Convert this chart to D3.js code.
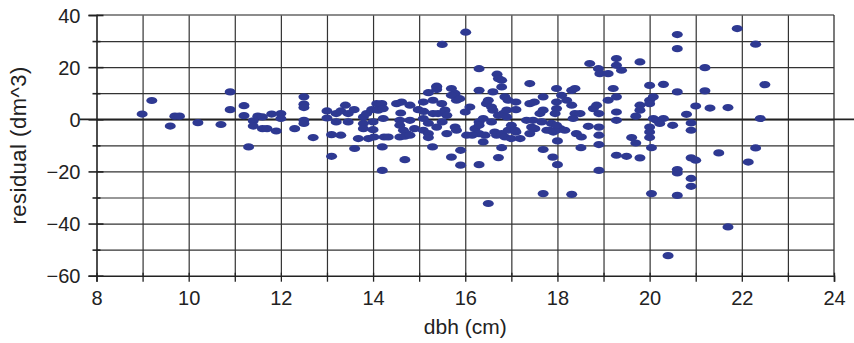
<!DOCTYPE html>
<html><head><meta charset="utf-8">
<script src="https://cdn.jsdelivr.net/npm/d3@7"></script>
<style>
body{margin:0;background:#fff;}
svg{display:block;}
text{font-family:"Liberation Sans Narrow","Arial Narrow","Liberation Sans",Arial,sans-serif;fill:#222;}
</style></head>
<body><svg id="c" width="854" height="343"></svg>
<script>
const dbh = [8.99,9.2,9.6,9.7,9.8,10.2,10.7,10.9,10.9,11.2,11.2,11.3,11.4,11.4,11.5,11.6,11.6,11.7,11.8,11.9,12.0,12.0,
12.3,12.5,12.5,12.5,12.5,12.5,12.7,13.0,13.0,13.1,13.1,13.2,13.2,13.3,13.3,13.4,13.46,13.46,13.59,13.6,13.68,13.79,13.79,13.79,13.86,13.9,13.97,
14.0,14.0,14.02,14.08,14.19,14.11,14.22,14.2,14.2,14.22,14.24,14.33,14.51,14.62,14.6,14.58,14.58,14.66,14.73,14.69,14.8,14.58,14.8,14.9,14.98,14.69,14.8,
15.09,15.09,15.09,15.2,15.3,15.41,15.3,15.49,15.38,15.2,15.2,15.29,15.38,15.56,15.6,15.38,15.38,15.7,15.78,15.7,15.7,15.81,15.88,15.78,15.81,15.9,15.9,15.5,15.1,15.2,15.5,15.6,
16.01,16.0,16.1,16.03,16.21,16.3,16.3,16.3,16.3,16.3,16.43,16.39,16.3,16.39,16.46,16.5,16.57,16.6,16.6,16.57,16.64,16.69,16.72,16.79,16.79,16.72,16.82,16.68,16.79,16.86,16.72,16.79,16.86,16.93,16.9,16.9,16.93,17.0,16.5,16.15,
17.08,17.0,17.1,17.1,17.1,17.19,17.4,17.4,17.5,17.33,17.47,17.44,17.51,17.4,17.69,17.62,17.69,17.69,17.66,17.77,17.84,17.91,17.98,18.06,18.16,17.87,17.98,17.9,17.98,17.98,18.09,18.2,17.98,17.95,18.0,18.0,17.69,
18.31,18.38,18.31,18.38,18.49,18.34,18.41,18.52,18.51,18.67,18.7,18.78,18.85,18.89,18.92,19.1,18.9,18.9,18.9,18.9,18.9,18.31,
19.1,19.21,19.28,19.28,19.39,19.28,19.28,19.28,19.28,19.79,19.7,19.79,19.79,19.61,19.7,19.5,19.79,
20.0,20.0,20.08,20.0,20.3,20.6,20.6,20.6,20.08,20.15,20.3,20.0,20.22,20.0,20.0,20.5,20.04,20.8,20.9,20.9,20.9,20.6,20.6,20.9,20.9,20.04,20.6,20.4,
21.0,21.2,21.2,21.31,21.7,21.0,21.5,21.9,22.3,22.5,22.4,22.3,22.14,21.7];
const residual = [2.0,7.2,-2.6,1.2,1.2,-1.3,-2.0,10.5,3.7,5.2,1.4,-10.6,-0.6,-2.6,1.2,0.9,-3.6,-3.6,2.0,-4.5,2.2,0.3,
-3.6,8.6,5.8,4.5,-0.4,-1.6,-7.0,3.2,0.5,-5.9,-14.2,2.2,-1.0,3.2,-6.1,5.4,2.2,-1.0,3.7,-11.2,-7.4,0.9,-1.6,-3.6,2.2,-7.4,3.7,
-1.0,-4.0,-6.8,6.0,6.0,3.5,4.1,-10.6,-19.6,0.3,-6.8,-6.8,6.0,6.6,2.4,-0.4,-2.3,-4.2,-5.5,-15.5,5.4,-6.8,-0.4,-3.6,3.7,-6.5,-6.1,
6.6,0.3,-4.2,10.2,2.2,2.2,7.3,6.0,12.7,-5.5,-7.0,-10.6,-3.0,3.5,1.5,11.4,12.4,11.8,9.9,-14.5,9.2,7.3,7.9,-3.0,-4.2,-11.9,-17.6,28.7,3.0,-1.5,-1.0,-5.5,
33.4,2.8,4.7,-6.1,-3.6,19.4,11.1,-1.0,-2.3,-5.5,-6.1,-8.7,-17.4,0.3,6.0,7.3,4.7,3.5,10.5,-1.0,-4.9,17.3,15.6,15.0,12.4,1.5,2.2,-6.1,-5.5,-6.8,-14.7,-10.9,8.6,7.3,3.5,0.9,-4.2,-2.3,-32.3,-6.1,
-4.2,-7.4,-4.9,6.6,3.7,-7.4,13.7,6.0,6.6,-0.4,-0.4,-3.0,-3.6,-5.5,8.6,2.2,3.5,-11.6,-1.0,-4.2,-4.2,-4.9,-4.2,-3.6,-4.2,-1.6,-2.3,-14.5,11.8,6.6,9.2,7.3,4.1,2.2,-8.3,-17.4,-28.5,
11.1,11.8,5.4,2.2,2.2,0.3,-5.5,-6.8,-10.9,-2.7,21.4,4.1,5.4,19.4,17.5,17.5,2.2,-3.0,-6.1,-9.7,-19.6,-28.8,
7.3,11.8,23.3,20.7,18.8,2.8,-0.4,-13.8,8.6,22.0,1.2,5.4,3.5,-7.0,-9.1,-14.2,-14.8,
13.0,7.3,8.6,6.0,13.4,10.5,27.1,32.5,0.3,-0.4,0.3,-3.0,-1.6,-4.9,-7.0,-2.3,-10.9,1.9,-1.4,-4.2,-14.8,-19.3,-20.6,-22.7,-25.7,-28.5,-29.2,-52.3,
5.1,19.8,10.9,4.3,4.5,-15.7,-12.9,34.8,28.8,13.3,0.3,-11.0,-16.4,-41.3];
const xTickLabels = ["8","10","12","14","16","18","20","22","24"];
const yTickLabels = ["\u221260","\u221240","\u221220","0","20","40"];
const xLabel = "dbh (cm)";
const yLabel = "residual (dm^3)";

const svg = d3.select("#c");
const x = d3.scaleLinear().domain([8,24]).range([96.5,834]);
const y = d3.scaleLinear().domain([-60,40]).range([275.7,15]);
const gridCol = "#333";

// gridlines
svg.append("g").attr("transform","translate(0,15)")
  .call(d3.axisBottom(x).tickValues(d3.range(9,24,1)).tickSize(260.7).tickFormat(""))
  .call(g=>{g.select(".domain").remove();g.selectAll("line").attr("stroke",gridCol).attr("stroke-width",1.2);});
svg.append("g").attr("transform","translate(96.5,0)")
  .call(d3.axisRight(y).tickValues(d3.range(-50,40,10)).tickSize(737.5).tickFormat(""))
  .call(g=>{g.select(".domain").remove();g.selectAll("line").attr("stroke",gridCol).attr("stroke-width",1.2);});
// frame top/right
svg.append("line").attr("x1",x(8)).attr("x2",x(24)).attr("y1",y(40)).attr("y2",y(40)).attr("stroke","#666").attr("stroke-width",1.6);
svg.append("line").attr("x1",x(24)).attr("x2",x(24)).attr("y1",y(40)).attr("y2",y(-60)).attr("stroke","#333").attr("stroke-width",1.3);

// x axis
const xa = svg.append("g").attr("transform",`translate(0,${y(-60)})`)
  .call(d3.axisBottom(x).tickValues(d3.range(8,25,1)).tickSize(6).tickPadding(9)
    .tickFormat(d=> d%2===0 ? xTickLabels[(d-8)/2] : ""));
xa.select(".domain").attr("stroke","#222").attr("stroke-width",1.6);
xa.selectAll("line").attr("stroke","#222").attr("stroke-width",1.3).attr("y1",-3);
xa.selectAll("text").attr("font-size",20).attr("fill","#222").attr("dy","0.71em");

// y axis
const ya = svg.append("g").attr("transform",`translate(${x(8)},0)`)
  .call(d3.axisLeft(y).tickValues(d3.range(-60,41,10)).tickSize(8).tickPadding(8)
    .tickFormat(d=> d%20===0 ? yTickLabels[(d+60)/20] : ""));
ya.select(".domain").attr("stroke","#222").attr("stroke-width",1.6);
ya.selectAll(".tick").each(function(d){
  const major = d%20===0;
  d3.select(this).select("line").attr("stroke","#222").attr("stroke-width",1.6)
    .attr("x1", major?-8:-4).attr("x2", major?7:4);
});
ya.selectAll("text").attr("font-size",20).attr("fill","#222").attr("x",-16).attr("dy","0.36em");

// zero line
svg.append("line").attr("x1",80).attr("x2",854).attr("y1",y(0)).attr("y2",y(0)).attr("stroke","#222").attr("stroke-width",1.7);

// points
svg.append("g").selectAll("ellipse").data(dbh.map((d,i)=>[d,residual[i]])).join("ellipse")
  .attr("cx",d=>x(d[0])).attr("cy",d=>y(d[1])).attr("rx",5.5).attr("ry",3.6).attr("fill","#2e3992");

// labels
svg.append("text").attr("x",(x(8)+x(24))/2).attr("y",334).attr("text-anchor","middle").attr("font-size",21).text(xLabel);
svg.append("text").attr("transform",`translate(26,${(y(40)+y(-60))/2}) rotate(-90)`).attr("text-anchor","middle")
  .attr("font-size",22).attr("letter-spacing",0.5).text(yLabel);
</script></body></html>
